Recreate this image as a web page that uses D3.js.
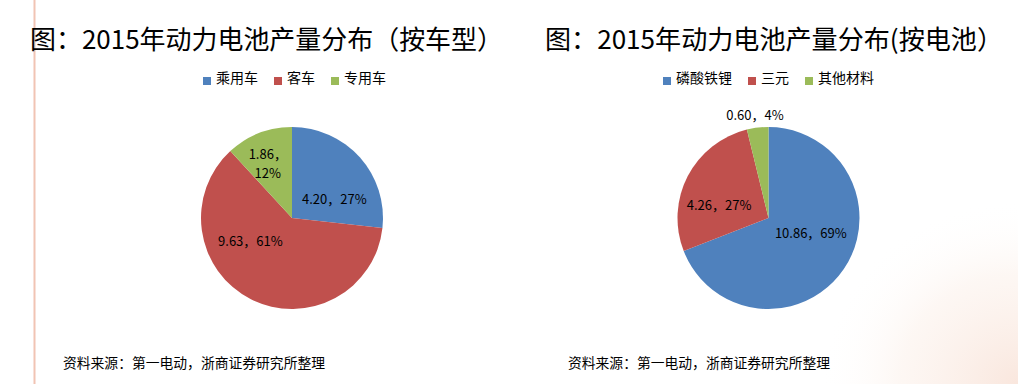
<!DOCTYPE html>
<html><head><meta charset="utf-8">
<script src="https://cdn.jsdelivr.net/npm/d3@7"></script>
<style>
html,body{margin:0;padding:0;background:#fff;}
svg{display:block;}
text{font-family:"Noto Sans CJK SC","Noto Sans",sans-serif;}
</style></head>
<body>
<svg id="chart" width="1018" height="384"></svg>
<script>
// ---- data ----
const titleLeft = "图：2015年动力电池产量分布（按车型）";
const titleRight = "图：2015年动力电池产量分布(按电池）";
const catsLeft = ["乘用车", "客车", "专用车"];
const valsLeft = [4.20, 9.63, 1.86];
const pctLeft = ["27%", "61%", "12%"];
const catsRight = ["磷酸铁锂", "三元", "其他材料"];
const valsRight = [10.86, 4.26, 0.60];
const pctRight = ["69%", "27%", "4%"];
const sourceNote = "资料来源：第一电动，浙商证券研究所整理";
const colors = ["#4F81BD", "#C0504D", "#9BBB59"];

// ---- layout / style (label placement tweaks, not data) ----
const labelStyleLeft = [{rf:0.55, dx:5, dy:15, wrap:false}, {rf:0.55, dx:-19, dy:-21, wrap:false}, {rf:0.55, dx:-6, dy:-8, wrap:true}];
const labelStyleRight = [{rf:0.55, dx:1, dy:-13, wrap:false}, {rf:0.55, dx:-5, dy:11, wrap:false}, {rf:1.15, dx:-1, dy:1, wrap:false}];

const svg = d3.select("#chart");

// background decoration (faint)
const defs = svg.append("defs");
const rg = defs.append("radialGradient").attr("id","bgdeco").attr("cx","1").attr("cy","1").attr("r","1");
rg.append("stop").attr("offset","0%").attr("stop-color","#f7dccf").attr("stop-opacity",0.7);
rg.append("stop").attr("offset","60%").attr("stop-color","#fbeee6").attr("stop-opacity",0.45);
rg.append("stop").attr("offset","100%").attr("stop-color","#ffffff").attr("stop-opacity",0);
svg.append("rect").attr("x",820).attr("y",200).attr("width",198).attr("height",184).attr("fill","url(#bgdeco)");

// left vertical rule
svg.append("line").attr("x1",34.5).attr("x2",34.5).attr("y1",0).attr("y2",384)
  .attr("stroke","#f1c4b4").attr("stroke-width",2);

function drawPanel(opts){
  const g = svg.append("g");
  g.append("text").attr("x", opts.titleX).attr("y", 49).attr("font-size", 26)
    .attr("textLength", opts.titleW).attr("lengthAdjust","spacingAndGlyphs")
    .attr("fill","#000").text(opts.title);

  // legend
  let lx = opts.legendX;
  opts.cats.forEach((c,i)=>{
    g.append("rect").attr("x", lx).attr("y", 77).attr("width", 8).attr("height", 8).attr("fill", colors[i]);
    const t = g.append("text").attr("x", lx+13).attr("y", 83).attr("font-size", 14).attr("fill","#000").text(c);
    const w = t.node().getComputedTextLength();
    lx += 13 + w + 16;
  });

  const r = 91;
  const pie = d3.pie().sort(null).value(d=>d.v).startAngle(0).endAngle(2*Math.PI);
  const arc = d3.arc().innerRadius(0).outerRadius(r);
  const data = opts.vals.map((v,i)=>({v, i}));
  const arcs = pie(data);
  const pg = g.append("g").attr("transform", `translate(${opts.cx},${opts.cy})`);
  pg.selectAll("path").data(arcs).join("path").attr("d", arc).attr("fill", d=>colors[d.data.i]);

  arcs.forEach((a,i)=>{
    const st = opts.labelStyle[i];
    const la = d3.arc().innerRadius(0).outerRadius(r*st.rf*2);
    const [x,y] = la.centroid(a);
    const lx2 = x + st.dx, ly2 = y + st.dy;
    const valTxt = opts.vals[i].toFixed(2);
    const t = pg.append("text").attr("x", lx2).attr("y", ly2).attr("text-anchor","middle")
      .attr("font-size", 13).attr("fill","#000");
    if(st.wrap){
      t.append("tspan").attr("x", lx2).attr("dy","-0.35em").text(valTxt + "，");
      t.append("tspan").attr("x", lx2).attr("dy","1.5em").text(opts.pcts[i]);
    } else {
      t.attr("dy","0.35em").text(valTxt + "，" + opts.pcts[i]);
    }
  });

  g.append("text").attr("x", opts.noteX).attr("y", 368).attr("font-size", 13.5)
    .attr("textLength", 262).attr("lengthAdjust","spacingAndGlyphs").attr("fill","#000").text(sourceNote);
}

drawPanel({title:titleLeft, titleX:30, titleW:473, legendX:203, cats:catsLeft, vals:valsLeft, pcts:pctLeft,
  cx:292, cy:218, labelStyle:labelStyleLeft, noteX:63});
drawPanel({title:titleRight, titleX:545, titleW:458, legendX:663, cats:catsRight, vals:valsRight, pcts:pctRight,
  cx:768.5, cy:218, labelStyle:labelStyleRight, noteX:568});
</script>
</body></html>
